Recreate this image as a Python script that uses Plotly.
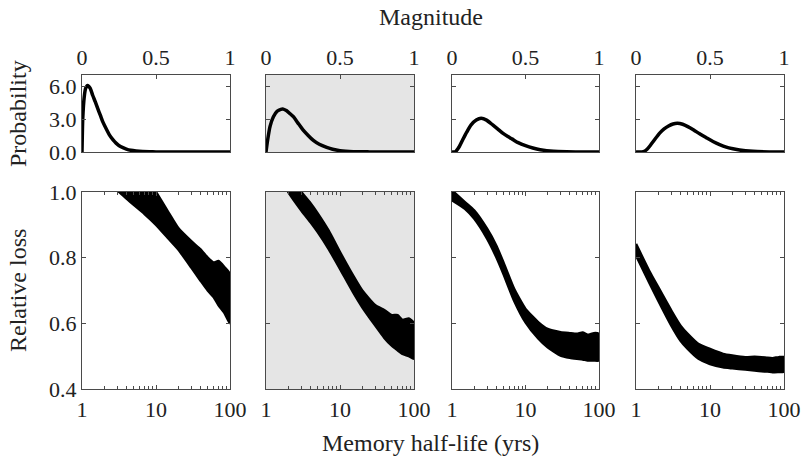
import plotly.graph_objects as go

# ---------------- data ----------------
mag_x1 = [0, 0.005, 0.015, 0.025, 0.038, 0.055, 0.072, 0.09, 0.106, 0.125, 0.14, 0.16, 0.185, 0.21, 0.23, 0.26, 0.30, 0.33, 0.365, 0.41, 0.455, 0.5, 0.6, 0.8, 1.0]
prob_1 = [0, 3.0, 5.0, 5.8, 6.05, 5.8, 5.16, 4.55, 3.96, 3.3, 2.76, 2.2, 1.56, 1.1, 0.81, 0.5, 0.27, 0.16, 0.09, 0.04, 0.02, 0.01, 0.0, 0.0, 0.0]
mag_x2 = [0, 0.01, 0.027, 0.05, 0.075, 0.1, 0.117, 0.14, 0.165, 0.185, 0.215, 0.25, 0.285, 0.32, 0.36, 0.41, 0.45, 0.5, 0.59, 0.7, 0.85, 1.0]
prob_2 = [0, 1.0, 2.31, 3.2, 3.7, 3.88, 3.9, 3.75, 3.45, 3.21, 2.65, 2.01, 1.5, 1.05, 0.7, 0.42, 0.25, 0.12, 0.03, 0.01, 0, 0]
mag_x3 = [0, 0.023, 0.05, 0.073, 0.1, 0.13, 0.165, 0.198, 0.235, 0.277, 0.31, 0.345, 0.38, 0.41, 0.45, 0.5, 0.55, 0.6, 0.69, 0.78, 0.9, 1.0]
prob_3 = [0, 0.02, 0.5, 1.11, 1.8, 2.46, 2.9, 3.06, 2.9, 2.46, 2.1, 1.71, 1.4, 1.17, 0.85, 0.57, 0.36, 0.21, 0.06, 0.02, 0.0, 0.0]
mag_x4 = [0, 0.05, 0.075, 0.095, 0.13, 0.16, 0.19, 0.22, 0.25, 0.28, 0.315, 0.35, 0.39, 0.43, 0.475, 0.52, 0.565, 0.61, 0.655, 0.70, 0.79, 0.9, 1.0]
prob_4 = [0, 0.02, 0.25, 0.57, 1.2, 1.71, 2.1, 2.37, 2.55, 2.61, 2.52, 2.31, 2.0, 1.65, 1.3, 0.96, 0.68, 0.45, 0.3, 0.18, 0.06, 0.01, 0.0]

half_life = [1, 1.5, 2, 3, 4, 5, 7, 10, 15, 20, 30, 40, 50, 60, 70, 85, 100]
loss_lo_1 = [1.15, 1.09, 1.05, 1.005, 0.98, 0.961, 0.933, 0.90, 0.856, 0.825, 0.77, 0.73, 0.70, 0.68, 0.655, 0.63, 0.60]
loss_hi_1 = [1.30, 1.27, 1.22, 1.15, 1.12, 1.09, 1.05, 1.0, 0.935, 0.89, 0.85, 0.825, 0.80, 0.785, 0.79, 0.77, 0.75]
loss_lo_2 = [1.10, 1.05, 1.0, 0.944, 0.908, 0.878, 0.827, 0.766, 0.695, 0.649, 0.593, 0.555, 0.532, 0.518, 0.507, 0.50, 0.492]
loss_hi_2 = [1.20, 1.10, 1.05, 1.0, 0.966, 0.935, 0.883, 0.817, 0.746, 0.70, 0.655, 0.64, 0.625, 0.625, 0.61, 0.615, 0.60]
loss_lo_3 = [0.975, 0.949, 0.919, 0.858, 0.802, 0.751, 0.669, 0.603, 0.553, 0.527, 0.502, 0.495, 0.492, 0.49, 0.487, 0.487, 0.487]
loss_hi_3 = [1.005, 0.969, 0.944, 0.888, 0.837, 0.786, 0.705, 0.644, 0.603, 0.583, 0.573, 0.57, 0.568, 0.572, 0.565, 0.57, 0.568]
loss_lo_4 = [0.807, 0.725, 0.669, 0.593, 0.547, 0.522, 0.492, 0.476, 0.466, 0.463, 0.459, 0.456, 0.454, 0.453, 0.451, 0.452, 0.453]
loss_hi_4 = [0.842, 0.761, 0.71, 0.639, 0.593, 0.568, 0.537, 0.522, 0.507, 0.502, 0.497, 0.498, 0.497, 0.495, 0.494, 0.497, 0.497]

mag_ticks = [0, 0.5, 1]
mag_labels = ["0", "0.5", "1"]
prob_ticks = [0, 3, 6]
prob_labels = ["0.0", "3.0", "6.0"]
hl_ticks = [1, 10, 100]
hl_labels = ["1", "10", "100"]
loss_ticks = [0.4, 0.6, 0.8, 1.0]
loss_labels = ["0.4", "0.6", "0.8", "1.0"]

# ---------------- layout ----------------
W, H = 801, 461
FONT = "Liberation Serif, DejaVu Serif, serif"
AX = "#4a4a4a"
cols_px = [(82, 230), (266, 414), (452, 599), (636, 784)]
top_px = (75, 152)
bot_px = (192, 389)

def xd(a, b):
    return [a / W, b / W]

def yd(a, b):
    return [1 - b / H, 1 - a / H]

def px(xp, yp):
    return xp / W, 1 - yp / H

fig = go.Figure()
mags = [(mag_x1, prob_1), (mag_x2, prob_2), (mag_x3, prob_3), (mag_x4, prob_4)]
bands = [(loss_lo_1, loss_hi_1), (loss_lo_2, loss_hi_2), (loss_lo_3, loss_hi_3), (loss_lo_4, loss_hi_4)]

common = dict(showline=True, linecolor=AX, linewidth=1.3, ticks="inside", automargin=False,
              tickcolor=AX, ticklen=4, tickwidth=1, showgrid=False, zeroline=False,
              tickfont=dict(family=FONT, size=22, color="#222"))

for i in range(4):
    top = 2 * i + 1
    bot = 2 * i + 2
    xs_t = "" if top == 1 else str(top)
    xs_b = str(bot)
    mx, my = mags[i]
    fig.add_trace(go.Scatter(x=mx, y=my, mode="lines", line=dict(color="black", width=3.5, shape="spline", smoothing=0.6),
                             xaxis="x" + xs_t, yaxis="y" + xs_t, showlegend=False, hoverinfo="skip"))
    lo, hi = bands[i]
    fig.add_trace(go.Scatter(x=half_life + half_life[::-1], y=hi + lo[::-1], mode="lines",
                             fill="toself", fillcolor="black", line=dict(color="black", width=2.5, shape="spline", smoothing=0.5),
                             xaxis="x" + xs_b, yaxis="y" + xs_b, showlegend=False, hoverinfo="skip"))

    a, b = cols_px[i]
    lay = {}
    lay["xaxis" + xs_t] = dict(common, domain=xd(a, b), anchor="y" + xs_t, range=[0, 1], side="top",
                               tickvals=mag_ticks, ticktext=mag_labels, mirror=True)
    lay["yaxis" + xs_t] = dict(common, domain=yd(*top_px), anchor="x" + xs_t, range=[0, 7],
                               tickvals=prob_ticks, ticktext=prob_labels, mirror="ticks",
                               showticklabels=(i == 0))
    lay["xaxis" + xs_b] = dict(common, domain=xd(a, b), anchor="y" + xs_b, type="log", range=[0, 2],
                               tickvals=hl_ticks, ticktext=hl_labels, mirror="ticks",
                               minor=dict(ticks="inside", ticklen=3, tickcolor=AX, dtick="D1", showgrid=False))
    lay["yaxis" + xs_b] = dict(common, domain=yd(*bot_px), anchor="x" + xs_b, range=[0.4, 1.0],
                               tickvals=loss_ticks, ticktext=loss_labels, mirror="ticks",
                               showticklabels=(i == 0))
    fig.update_layout(**lay)

# gray background for column 2
for ax in ["x3", "x4"]:
    yax = "y" + ax[1:]
    fig.add_shape(type="rect", xref=ax + " domain", yref=yax + " domain", x0=0, x1=1, y0=0, y1=1,
                  fillcolor="#e5e5e5", line=dict(width=0), layer="below")

title_font = dict(family=FONT, size=24, color="#222")
titles = [("Magnitude", 431, 17, 0), ("Memory half-life (yrs)", 430, 443, 0),
          ("Probability", 18, 114, -90), ("Relative loss", 18, 291, -90)]
for txt, tx, ty, ang in titles:
    ax_, ay_ = px(tx, ty)
    fig.add_annotation(text=txt, x=ax_, y=ay_, xref="paper", yref="paper", textangle=ang,
                       showarrow=False, font=title_font, xanchor="center", yanchor="middle")

fig.update_layout(width=W, height=H, margin=dict(l=0, r=0, t=0, b=0, autoexpand=False),
                  paper_bgcolor="white", plot_bgcolor="white", showlegend=False)

fig.write_html("out.html", config={"displayModeBar": False},
               post_script="document.body.style.margin='0px';")
